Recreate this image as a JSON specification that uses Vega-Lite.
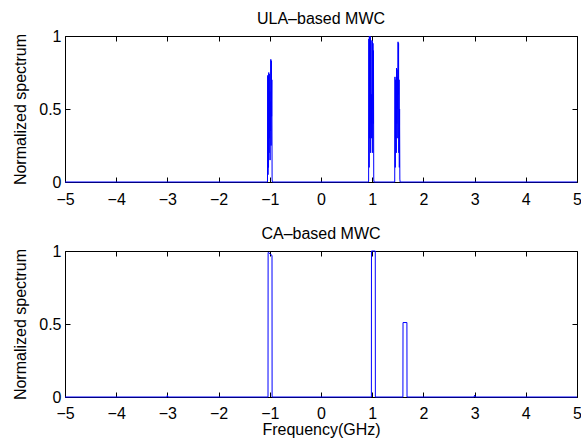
{
  "$schema": "https://vega.github.io/schema/vega-lite/v6.json",
  "padding": {"left": 12, "top": 10, "right": 0, "bottom": 0},
  "background": "white",
  "config": {
    "font": "Liberation Sans",
    "view": {"stroke": "black", "strokeWidth": 1},
    "axis": {"domain": false, "grid": false, "tickColor": "black", "tickSize": -5, "tickWidth": 1, "labelColor": "black", "labelFontSize": 16, "titleFontSize": 16, "titleFontWeight": "normal", "titleColor": "black", "labelFont": "Liberation Sans", "titleFont": "Liberation Sans"},
    "title": {"fontSize": 16, "fontWeight": "normal", "color": "black", "font": "Liberation Sans"}
  },
  "datasets": {
    "ula": [
      {"f": -5, "s": 0},
      {"f": -1.045, "s": 0}, {"f": -1.04, "s": 0.73}, {"f": -1.035, "s": 0.05}, {"f": -1.03, "s": 0.72}, {"f": -1.025, "s": 0.1}, {"f": -1.02, "s": 0.75}, {"f": -1.015, "s": 0.2}, {"f": -1.01, "s": 0.74}, {"f": -1.005, "s": 0.3}, {"f": -1.0, "s": 0.62}, {"f": -0.995, "s": 0.15}, {"f": -0.99, "s": 0.55}, {"f": -0.985, "s": 0.35}, {"f": -0.98, "s": 0.84}, {"f": -0.975, "s": 0.25}, {"f": -0.97, "s": 0.83}, {"f": -0.965, "s": 0.45}, {"f": -0.96, "s": 0.7}, {"f": -0.955, "s": 0.02}, {"f": -0.95, "s": 0},
      {"f": 0.93, "s": 0}, {"f": 0.935, "s": 0.98}, {"f": 0.94, "s": 0.1}, {"f": 0.945, "s": 1.0}, {"f": 0.95, "s": 0.3}, {"f": 0.955, "s": 1.0}, {"f": 0.96, "s": 0.5}, {"f": 0.965, "s": 0.99}, {"f": 0.97, "s": 0.2}, {"f": 0.975, "s": 0.55}, {"f": 0.98, "s": 0.4}, {"f": 0.985, "s": 0.6}, {"f": 0.99, "s": 0.3}, {"f": 0.995, "s": 0.97}, {"f": 1.0, "s": 0.5}, {"f": 1.005, "s": 0.96}, {"f": 1.01, "s": 0.2}, {"f": 1.015, "s": 0.95}, {"f": 1.02, "s": 0.4}, {"f": 1.025, "s": 0.9}, {"f": 1.03, "s": 0.02}, {"f": 1.035, "s": 0},
      {"f": 1.44, "s": 0}, {"f": 1.445, "s": 0.72}, {"f": 1.45, "s": 0.1}, {"f": 1.455, "s": 0.7}, {"f": 1.46, "s": 0.3}, {"f": 1.465, "s": 0.45}, {"f": 1.47, "s": 0.2}, {"f": 1.475, "s": 0.78}, {"f": 1.48, "s": 0.4}, {"f": 1.485, "s": 0.77}, {"f": 1.49, "s": 0.5}, {"f": 1.495, "s": 0.72}, {"f": 1.5, "s": 0.3}, {"f": 1.505, "s": 0.96}, {"f": 1.51, "s": 0.6}, {"f": 1.515, "s": 0.95}, {"f": 1.52, "s": 0.2}, {"f": 1.525, "s": 0.7}, {"f": 1.53, "s": 0.1}, {"f": 1.535, "s": 0.5}, {"f": 1.54, "s": 0.02}, {"f": 1.545, "s": 0},
      {"f": 5, "s": 0}
    ],
    "ca": [
      {"f": -5, "s": 0},
      {"f": -3.01, "s": 0}, {"f": -3.0, "s": 0.012}, {"f": -2.99, "s": 0},
      {"f": -1.035, "s": 0}, {"f": -1.033, "s": 0.99}, {"f": -1.02, "s": 0.99}, {"f": -1.0, "s": 0.98}, {"f": -0.957, "s": 0.97}, {"f": -0.955, "s": 0},
      {"f": 0.984, "s": 0}, {"f": 0.986, "s": 1.0}, {"f": 1.06, "s": 1.0}, {"f": 1.062, "s": 0},
      {"f": 1.6, "s": 0}, {"f": 1.602, "s": 0.51}, {"f": 1.678, "s": 0.51}, {"f": 1.68, "s": 0},
      {"f": 2.99, "s": 0}, {"f": 3.0, "s": 0.012}, {"f": 3.01, "s": 0},
      {"f": 5, "s": 0}
    ]
  },
  "spacing": 17,
  "vconcat": [
    {
      "width": 512,
      "height": 146,
      "title": {"text": "ULA–based MWC", "offset": 1},
      "data": {"name": "ula"},
      "layer": [
        {
          "mark": {"type": "line", "color": "#0000ff", "strokeWidth": 1},
          "encoding": {
            "x": {"field": "f", "type": "quantitative", "scale": {"domain": [-5, 5], "nice": false, "zero": false}, "axis": {"values": [-5, -4, -3, -2, -1, 0, 1, 2, 3, 4, 5], "title": null, "labelFlush": false, "labelOverlap": false, "labelPadding": 14}},
            "y": {"field": "s", "type": "quantitative", "scale": {"domain": [0, 1], "nice": false}, "axis": {"values": [0, 0.5, 1], "format": "~g", "title": "Normalized spectrum", "labelPadding": 9, "titlePadding": 10}}
          }
        },
        {
          "mark": {"type": "line", "strokeOpacity": 0},
          "encoding": {
            "x": {"field": "f", "type": "quantitative", "axis": {"orient": "top", "values": [-5, -4, -3, -2, -1, 0, 1, 2, 3, 4, 5], "labels": false, "title": null}},
            "y": {"field": "s", "type": "quantitative", "axis": {"orient": "right", "values": [0, 0.5, 1], "labels": false, "title": null}}
          }
        }
      ],
      "resolve": {"axis": {"x": "independent", "y": "independent"}}
    },
    {
      "width": 512,
      "height": 146,
      "title": {"text": "CA–based MWC", "offset": 1},
      "data": {"name": "ca"},
      "layer": [
        {
          "mark": {"type": "line", "color": "#0000ff", "strokeWidth": 1},
          "encoding": {
            "x": {"field": "f", "type": "quantitative", "scale": {"domain": [-5, 5], "nice": false, "zero": false}, "axis": {"values": [-5, -4, -3, -2, -1, 0, 1, 2, 3, 4, 5], "title": "Frequency(GHz)", "labelFlush": false, "labelOverlap": false, "labelPadding": 13, "titlePadding": 0}},
            "y": {"field": "s", "type": "quantitative", "scale": {"domain": [0, 1], "nice": false}, "axis": {"values": [0, 0.5, 1], "format": "~g", "title": "Normalized spectrum", "labelPadding": 9, "titlePadding": 10}}
          }
        },
        {
          "mark": {"type": "line", "strokeOpacity": 0},
          "encoding": {
            "x": {"field": "f", "type": "quantitative", "axis": {"orient": "top", "values": [-5, -4, -3, -2, -1, 0, 1, 2, 3, 4, 5], "labels": false, "title": null}},
            "y": {"field": "s", "type": "quantitative", "axis": {"orient": "right", "values": [0, 0.5, 1], "labels": false, "title": null}}
          }
        }
      ],
      "resolve": {"axis": {"x": "independent", "y": "independent"}}
    }
  ]
}
